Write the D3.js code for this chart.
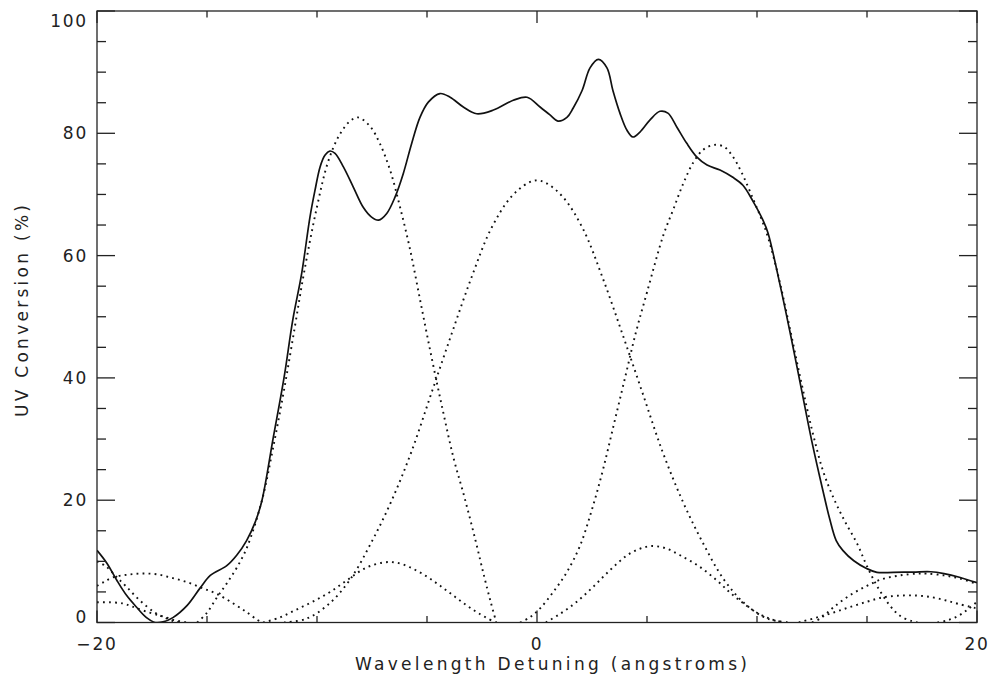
<!DOCTYPE html>
<html><head><meta charset="utf-8">
<script src="https://cdn.jsdelivr.net/npm/d3@7"></script>
<style>body{margin:0;background:#fff}svg{display:block}</style>
</head><body>
<script>
// ---------- data ----------
const xMajorTicks = [-20, 0, 20];
const xMinorTicks = [-15, -10, -5, 5, 10, 15];
const yMajorTicks = [0, 20, 40, 60, 80, 100];
const yMinorTicks = [5,10,15,25,30,35,45,50,55,65,70,75,85,90,95];
const xTitle = "Wavelength Detuning (angstroms)";
const yTitle = "UV Conversion (%)";

// total conversion (solid)
const totalConversion = [[-20,11.8],[-19.55,9.7],[-19.1,6.9],[-18.65,4.4],[-18.2,2.5],[-17.75,0.8],[-17.35,0],[-17.0,0.1],[-16.55,0.8],[-15.9,2.8],[-15.3,5.7],[-14.85,7.7],[-14.1,9.3],[-13.65,11],[-13.2,13.4],[-12.8,16.5],[-12.5,20],[-12.0,30],[-11.5,40],[-11.1,49.5],[-10.7,57],[-10.32,66.3],[-10.09,70.7],[-9.86,74.5],[-9.64,76.4],[-9.41,77.1],[-9.18,76.7],[-8.8,74.5],[-8.35,71.2],[-7.9,67.9],[-7.52,66.3],[-7.2,65.8],[-6.83,66.9],[-6.45,69.6],[-6.08,73.4],[-5.7,78.3],[-5.32,82.6],[-4.94,85.1],[-4.41,86.5],[-3.95,85.9],[-3.35,84.3],[-2.74,83.2],[-1.98,83.8],[-1.08,85.4],[-0.45,85.9],[0.14,84.3],[0.59,83],[0.95,82],[1.36,82.6],[1.64,84.1],[2.05,87],[2.41,90.7],[2.79,92.1],[3.18,90.7],[3.45,87],[3.77,83.3],[4.09,80.5],[4.36,79.4],[4.68,80.2],[5.14,82.2],[5.59,83.6],[5.95,83.3],[6.36,81],[6.8,78.4],[7.27,76.1],[7.73,74.8],[8.32,74],[8.9,72.8],[9.36,71.5],[9.8,69],[10.27,65.8],[10.5,63.7],[11.0,56],[11.5,47.5],[12.0,38.5],[12.5,29.5],[13.0,21.5],[13.3,17],[13.6,13.4],[13.9,11.8],[14.4,10.1],[15.0,8.8],[15.45,8.2],[16.2,8.2],[17.1,8.25],[17.9,8.3],[18.5,8.0],[19.2,7.4],[20,6.5]];

// individual crystal responses (dotted)
const leftCrystal = [[-15.45,0],[-15.0,1.6],[-14.55,4.1],[-14.1,6.4],[-13.64,9],[-13.18,12.3],[-12.5,20],[-12.0,28.5],[-11.5,38],[-11.0,48.5],[-10.6,57],[-10.0,68],[-9.5,75.3],[-9.0,79.6],[-8.5,82],[-8.14,82.6],[-7.6,81.2],[-7.14,78.3],[-6.68,74],[-6.23,68],[-5.77,61],[-5.3,52.5],[-4.8,43.5],[-4.3,35],[-3.8,27],[-3.3,20.5],[-2.8,13.5],[-2.4,7.5],[-2.1,3.3],[-1.85,0]];
const centerCrystal = [[-11.5,0],[-10.5,0.6],[-9.5,2.9],[-8.5,7],[-7.5,13.3],[-6.6,20],[-5.7,28],[-4.8,37.5],[-3.9,47],[-2.97,56.5],[-2.1,64.3],[-1.2,69.5],[-0.4,71.9],[0,72.3],[0.4,71.9],[1.2,69.5],[2.1,64.3],[2.97,56.5],[3.9,47],[4.8,37.5],[5.7,28],[6.6,20],[7.5,13.3],[8.5,7],[9.5,2.9],[10.5,0.6],[11.5,0]];
const rightCrystal = [[-0.77,0],[-0.3,0.9],[0.14,2.3],[0.74,5],[1.35,8.2],[1.95,12.5],[2.5,18.5],[3,25],[3.5,32.5],[4,40],[4.5,47.5],[5,54],[5.74,63.3],[6.2,67.6],[6.65,71.8],[7.1,75.2],[7.55,77.3],[8.05,78.1],[8.5,77.8],[8.9,76.2],[9.3,73.6],[9.83,69.2],[10.2,66],[10.5,63],[11,56.2],[11.5,48],[12,39.5],[12.5,31.5],[13,24.8],[13.5,20.2],[14,16.5],[14.55,12.9],[15,9.2],[15.5,5.7],[16.1,2.5],[16.5,1.1],[17.05,0.2],[17.3,0]];
const lobeMinus7 = [[-12.45,0],[-11.7,0.8],[-11.0,2],[-10.2,3.4],[-9.4,5],[-8.6,7],[-7.8,8.9],[-7.0,9.8],[-6.4,9.8],[-5.7,8.9],[-5.0,7.5],[-4.4,6],[-3.8,4.4],[-3.2,2.8],[-2.6,1.4],[-1.9,0]];
const lobePlus5 = [[0.4,0],[1,1.3],[1.6,2.8],[2.1,4.3],[2.6,6],[3.1,7.8],[3.6,9.5],[4.14,11.1],[4.7,12.1],[5.2,12.5],[5.8,12.2],[6.5,11],[7.4,9.1],[8.2,6.8],[8.77,4.9],[9.36,3.2],[10,1.6],[10.6,0.6],[11.2,0]];
const lobePlus17a = [[11.9,0],[12.7,0.8],[13.45,1.6],[14.2,2.5],[15,3.4],[15.7,4.1],[16.5,4.4],[17.3,4.4],[18,4.1],[18.6,3.6],[19.2,3],[20,2.3]];
const lobePlus17b = [[12.5,0],[12.9,0.7],[13.45,2.4],[14.2,4.4],[15,6],[15.7,7.1],[16.5,7.7],[17.3,8],[17.7,8],[18.5,7.7],[19.2,7.2],[20,6.3]];
const lobePlus20 = [[18.2,0],[18.7,0.4],[19.2,1.2],[19.6,2.2],[20,3.4]];
const lobeMinus17 = [[-20,6],[-19.7,6.6],[-19.26,7.4],[-18.65,7.8],[-18,8],[-17.3,7.9],[-16.6,7.3],[-15.9,6.6],[-15.2,5.6],[-14.56,4.7],[-13.8,3.1],[-13.2,1.7],[-12.74,0.5],[-12.5,0]];
const lobeMinus20a = [[-20,10],[-19.6,9.2],[-19.1,7.4],[-18.65,5.8],[-18.05,3.6],[-17.4,1.7],[-17,0.9],[-16.5,0.2],[-16.2,0]];
const lobeMinus20b = [[-20,3.3],[-19.4,3.3],[-18.8,3.1],[-18.4,2.6],[-17.6,1.6],[-17,1],[-16.5,0.4],[-15.9,0]];
const dottedSeries = [leftCrystal, centerCrystal, rightCrystal, lobeMinus7, lobePlus5, lobePlus17a, lobePlus17b, lobePlus20, lobeMinus17, lobeMinus20a, lobeMinus20b];

// ---------- drawing ----------
const W = 992, H = 684;
const L = 97, R = 977, T = 11, B = 622.5;
const svg = d3.select("body").append("svg").attr("width", W).attr("height", H);
const x = d3.scaleLinear().domain([-20, 20]).range([L, R]);
const y = d3.scaleLinear().domain([0, 100]).range([B, T]);
const font = "'DejaVu Sans', sans-serif";

const plot = svg.append("g");
plot.append("defs").append("clipPath").attr("id", "clip")
  .append("rect").attr("x", L).attr("y", T).attr("width", R - L).attr("height", B - T);

const line = d3.line().x(d => x(d[0])).y(d => y(d[1])).curve(d3.curveCatmullRom.alpha(0.5));
const g = plot.append("g").attr("clip-path", "url(#clip)");
dottedSeries.forEach(s => {
  g.append("path").attr("d", line(s)).attr("fill", "none")
    .attr("stroke", "#111").attr("stroke-width", 1.9).attr("stroke-dasharray", "1.8 4.2");
});
g.append("path").attr("d", line(totalConversion)).attr("fill", "none")
  .attr("stroke", "#111").attr("stroke-width", 1.7).attr("stroke-linejoin", "round");

// frame
svg.append("rect").attr("x", L).attr("y", T).attr("width", R - L).attr("height", B - T)
  .attr("fill", "none").attr("stroke", "#222").attr("stroke-width", 1.3);

// ticks
const tg = svg.append("g").attr("stroke", "#222").attr("stroke-width", 1.3);
const xMajLen = 12, xMinLen = 6.5, yMajLen = 18, yMinLen = 9;
xMajorTicks.concat(xMinorTicks).forEach(v => {
  const len = xMajorTicks.includes(v) ? xMajLen : xMinLen;
  tg.append("line").attr("x1", x(v)).attr("x2", x(v)).attr("y1", B).attr("y2", B - len);
  tg.append("line").attr("x1", x(v)).attr("x2", x(v)).attr("y1", T).attr("y2", T + len);
});
yMajorTicks.concat(yMinorTicks).forEach(v => {
  const len = yMajorTicks.includes(v) ? yMajLen : yMinLen;
  tg.append("line").attr("x1", L).attr("x2", L + len).attr("y1", y(v)).attr("y2", y(v));
  tg.append("line").attr("x1", R).attr("x2", R - len).attr("y1", y(v)).attr("y2", y(v));
});

// tick labels
const lab = svg.append("g").attr("font-family", font).attr("font-size", 17).attr("fill", "#222")
  .attr("letter-spacing", 1.8);
xMajorTicks.forEach(v => {
  lab.append("text").attr("x", x(v)).attr("y", 650).attr("text-anchor", "middle")
    .text(v < 0 ? "\u2212" + Math.abs(v) : String(v));
});
yMajorTicks.forEach(v => {
  let yy = y(v);
  if (v === 100) yy = 21; if (v === 0) yy = 617;
  lab.append("text").attr("x", 88).attr("y", yy).attr("dy", "0.36em").attr("text-anchor", "end").text(String(v));
});

// titles
svg.append("text").attr("x", 551).attr("y", 670).attr("text-anchor", "middle")
  .attr("font-family", font).attr("font-size", 17).attr("fill", "#222")
  .attr("textLength", 392).attr("lengthAdjust", "spacing").text(xTitle);
svg.append("text").attr("transform", "translate(28,311) rotate(-90)").attr("text-anchor", "middle")
  .attr("font-family", font).attr("font-size", 17).attr("fill", "#222")
  .attr("textLength", 212).attr("lengthAdjust", "spacing").text(yTitle);
</script>
</body></html>
